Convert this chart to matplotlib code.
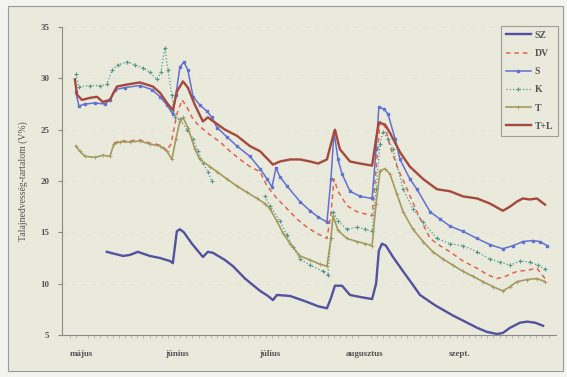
import numpy as np
import matplotlib
matplotlib.use("Agg")
import matplotlib.pyplot as plt
from matplotlib.patches import Rectangle

# days counted from 1 May
sz_day = [8.1, 10.7, 13.4, 15.6, 18.2, 22.1, 25.4, 28.7, 29.6, 30.9, 31.9, 33.2, 35.8, 39.4, 41.0, 42.7,
          46.6, 49.2, 53.1, 58.0, 60.6, 62.2, 63.5, 67.8, 72.6, 76.9, 79.8, 81.1, 82.4, 84.7, 87.3, 90.6,
          94.5, 95.8, 96.7, 97.7, 99.0, 101.3, 104.6, 107.5, 110.1, 115.0, 120.8, 124.8, 128.7, 131.9,
          135.2, 137.1, 139.4, 142.7, 145.0, 147.6, 150.2]
sz_val = [13.1, 12.9, 12.7, 12.8, 13.1, 12.7, 12.5, 12.2, 12.0, 15.1, 15.3, 15.0, 13.9, 12.6, 13.1, 13.0,
          12.3, 11.7, 10.5, 9.3, 8.8, 8.4, 8.9, 8.8, 8.3, 7.8, 7.6, 8.6, 9.8, 9.8, 8.9, 8.7,
          8.5, 10.0, 13.2, 13.9, 13.7, 12.6, 11.2, 10.0, 8.9, 7.9, 6.9, 6.3, 5.7, 5.3,
          5.1, 5.2, 5.7, 6.2, 6.3, 6.2, 5.9]

dv_day = [10.4, 12.4, 15.6, 18.9, 22.1, 25.4, 27.7, 29.0, 30.9, 32.6, 34.2, 36.2, 38.4, 41.7, 45.0, 48.2,
          51.5, 54.7, 58.0, 60.3, 63.5, 66.8, 70.0, 73.3, 76.5, 79.8, 81.1, 82.1, 83.4, 86.3, 89.6, 92.2,
          94.5, 95.8, 97.1, 98.7, 100.3, 102.9, 105.9, 109.4, 113.4, 116.6, 119.9, 124.1, 128.7, 131.9,
          135.2, 137.8, 141.7, 145.0, 148.2, 150.8]
dv_val = [23.7, 23.9, 23.9, 24.0, 23.7, 23.5, 23.0, 23.6, 26.5, 27.9, 27.2, 26.0, 25.3, 24.5, 23.8, 22.9,
          22.1, 21.4, 20.9, 19.5, 18.3, 17.3, 16.3, 15.5, 14.9, 14.4, 16.8, 20.2, 19.0, 17.6, 17.0, 16.8,
          16.6, 21.2, 25.8, 25.3, 23.4, 21.2, 19.2, 16.8, 14.4, 13.7, 13.1, 12.2, 11.5, 10.9,
          10.5, 10.7, 11.2, 11.3, 11.5, 10.5]

s_day = [-2.0, -1.0, 1.0, 4.2, 7.5, 9.1, 10.7, 14.0, 18.9, 22.8, 25.4, 27.7, 29.6, 30.6, 31.9, 33.2,
         34.5, 36.2, 38.4, 40.7, 42.3, 44.0, 47.2, 50.5, 54.7, 58.0, 60.3, 61.9, 63.2, 64.5, 66.8, 71.0,
         74.3, 76.9, 79.8, 81.1, 82.1, 83.4, 84.7, 87.3, 90.6, 94.5, 95.8, 96.7, 98.4, 99.7, 102.0,
         103.6, 106.8, 109.1, 113.4, 116.6, 119.9, 124.1, 128.7, 132.9, 137.1, 140.4, 143.6, 146.9,
         149.2, 151.5]
s_val = [28.7, 27.3, 27.5, 27.6, 27.5, 27.9, 28.9, 29.1, 29.3, 28.9, 28.2, 27.4, 26.5, 28.4, 31.1, 31.6,
         30.8, 28.2, 27.4, 26.8, 26.2, 25.2, 24.3, 23.4, 22.4, 21.2, 20.2, 19.4, 21.3, 20.4, 19.5, 18.0,
         17.1, 16.5, 16.0, 20.2, 24.8, 22.1, 20.7, 19.0, 18.5, 18.3, 23.1, 27.2, 27.0, 26.5, 24.1,
         22.1, 20.2, 19.2, 17.0, 16.3, 15.6, 15.1, 14.4, 13.8, 13.4, 13.7, 14.1, 14.2,
         14.1, 13.7]

k_day = [-2.0, -1.0, 2.6, 5.9, 8.1, 9.8, 11.7, 14.7, 17.3, 19.9, 22.1, 24.4, 25.7, 27.0, 28.0, 29.3,
         30.3, 31.9, 34.2, 36.2, 37.8, 39.4, 41.0, 42.3, 50.0,
         59.6, 61.2, 64.5, 66.8, 68.7, 71.0, 74.3, 78.5, 80.1, 81.1, 81.8, 83.4, 86.3, 89.6, 92.2,
         94.5, 95.8, 97.1, 98.0, 99.7, 101.3, 104.6, 107.8, 111.1, 115.6, 119.9, 124.1, 128.7, 132.9,
         136.2, 139.4, 142.7, 145.9, 148.5, 150.8]
k_val = [30.4, 29.2, 29.3, 29.3, 29.4, 30.8, 31.3, 31.6, 31.3, 31.0, 30.6, 29.9, 30.6, 33.0, 30.8, 28.4,
         26.2, 26.0, 25.0, 24.1, 22.9, 21.8, 20.9, 20.0, np.nan,
         18.5, 17.6, 16.1, 14.7, 13.6, 12.4, 11.8, 11.2, 10.8, 14.4, 17.0, 16.1, 15.3, 15.5, 15.3,
         15.1, 19.2, 23.6, 24.8, 24.1, 23.1, 19.2, 17.3, 16.0, 14.4, 13.9, 13.7, 13.1, 12.4,
         12.1, 11.8, 12.2, 12.1, 11.8, 11.4]

t_day = [-2.0, -0.7, 1.0, 4.2, 6.8, 9.1, 10.4, 12.4, 15.6, 18.9, 22.1, 25.4, 27.7, 29.3, 30.6, 31.9,
         32.9, 34.5, 36.8, 38.4, 41.7, 44.0, 47.2, 50.5, 53.7, 57.0, 59.6, 61.2, 63.5, 65.5, 67.8, 71.0,
         74.3, 77.5, 79.8, 81.1, 81.8, 83.4, 86.3, 89.6, 92.2, 94.5, 95.8, 97.1, 98.7, 100.3, 102.6,
         104.6, 107.8, 111.1, 114.3, 117.6, 120.8, 124.1, 127.4, 130.6, 133.9, 137.1, 139.4, 141.7,
         145.0, 148.2, 150.8]
t_val = [23.4, 22.9, 22.4, 22.3, 22.5, 22.4, 23.6, 23.8, 23.8, 23.9, 23.6, 23.4, 22.9, 22.1, 24.1, 25.8,
         26.2, 25.2, 23.1, 22.1, 21.4, 20.9, 20.2, 19.5, 18.9, 18.3, 17.8, 17.3, 16.1, 14.9, 13.9, 12.7,
         12.3, 11.9, 11.7, 14.4, 16.6, 15.2, 14.4, 14.1, 13.9, 13.7, 17.8, 21.0, 21.2, 20.7, 18.7,
         17.0, 15.3, 14.1, 13.1, 12.4, 11.8, 11.2, 10.7, 10.2, 9.7, 9.3, 9.7, 10.2,
         10.4, 10.5, 10.2]

tl_day = [-2.3, -1.6, 0.0, 2.6, 4.9, 6.8, 9.1, 11.4, 14.7, 18.9, 23.1, 25.4, 27.7, 29.6, 30.9, 32.9,
          34.5, 36.8, 39.4, 41.0, 43.3, 46.6, 50.5, 54.7, 58.0, 60.6, 62.2, 64.5, 67.8, 71.0, 74.3,
          76.9, 79.8, 81.1, 82.4, 84.0, 87.3, 90.6, 94.5, 95.8, 96.7, 98.7, 100.3, 103.6, 106.8, 111.1,
          115.6, 119.9, 124.1, 128.7, 132.9, 137.1, 139.4, 141.7, 143.6, 145.9, 148.2, 150.8]
tl_val = [29.9, 28.4, 27.9, 28.1, 28.2, 27.7, 27.9, 29.2, 29.4, 29.6, 29.2, 28.6, 27.6, 26.9, 28.7, 29.7,
          29.1, 27.4, 25.8, 26.2, 25.7, 25.0, 24.4, 23.4, 22.9, 22.1, 21.6, 21.9, 22.1, 22.1, 21.9,
          21.7, 22.1, 23.6, 25.0, 23.1, 21.9, 21.7, 21.5, 24.1, 25.7, 25.5, 24.7, 22.8, 21.4, 20.2,
          19.2, 19.0, 18.5, 18.3, 17.8, 17.1, 17.5, 18.0, 18.3, 18.2, 18.3, 17.7]

month_pos = [0, 31, 61, 92, 123]
month_lab = ["május", "június", "július", "augusztus", "szept."]

plt.rcParams['font.family'] = ['Liberation Serif', 'DejaVu Serif']
plt.rcParams['font.weight'] = 'bold'

bg = '#e9e9dc'
fig = plt.figure(figsize=(5.67, 3.77), dpi=100, facecolor='#f3f3ef')
frame = Rectangle((8 / 567, 1 - 371 / 377), 555 / 567, 365 / 377, transform=fig.transFigure,
                  facecolor=bg, edgecolor='#9a9a9a', linewidth=0.8, zorder=-10)
fig.patches.append(frame)
ax = fig.add_axes([62 / 567, 42 / 377, 494 / 567, 308 / 377])
ax.set_facecolor(bg)
ax.set_zorder(1)

ax.plot(sz_day, sz_val, color='#5252a0', lw=1.7, label='SZ')
ax.plot(dv_day, dv_val, color='#e0644f', lw=1.1, ls=(0, (3, 2.5)), label='DV')
ax.plot(s_day, s_val, color='#6272d0', lw=1.1, marker='s', ms=1.7, label='S')
ax.plot(k_day, k_val, color='#52998c', lw=0.9, ls=':', marker='+', ms=3, mew=0.8, label='K')
ax.plot(t_day, t_val, color='#a39b60', lw=1.2, marker='+', ms=2.5, mew=0.6, label='T')
ax.plot(tl_day, tl_val, color='#a5493c', lw=1.7, label='T+L')

ax.set_xlim(-6.5, 154.4)
ax.set_ylim(5, 35)
ax.set_yticks([5, 10, 15, 20, 25, 30, 35])
ax.set_xticks(month_pos)
ax.set_xticklabels(month_lab)
ax.set_xticks(np.arange(-4, 154, 2), minor=True)
ax.tick_params(axis='x', which='major', length=0, pad=11, labelsize=6.5, colors='#555555')
ax.tick_params(axis='x', which='minor', length=2, color='#b0b0a8', width=0.6)
ax.tick_params(axis='y', length=3, color='#888888', labelsize=6.5, colors='#555555', pad=6)
ax.grid(axis='y', color='#dedfd0', lw=0.5, ls=(0, (6, 8)))
for sp in ['top', 'right']:
    ax.spines[sp].set_visible(False)
for sp in ['left', 'bottom']:
    ax.spines[sp].set_color('#8a8a8a')
    ax.spines[sp].set_linewidth(0.8)

ax.set_ylabel('Talajnedvesség-tartalom (V%)', fontsize=7, color='#555555', labelpad=9)

leg = ax.legend(loc='upper right', bbox_to_anchor=(563 / 567, 1 - 21 / 377), bbox_transform=fig.transFigure,
                fontsize=7, frameon=True, fancybox=False, edgecolor='#8a8a8a', facecolor=bg,
                labelspacing=0.95, handlelength=2.6, borderpad=0.5, handletextpad=0.4)
leg.get_frame().set_linewidth(0.8)
for t in leg.get_texts():
    t.set_color('#555555')

fig.savefig('out.png', dpi=100, facecolor=fig.get_facecolor())
